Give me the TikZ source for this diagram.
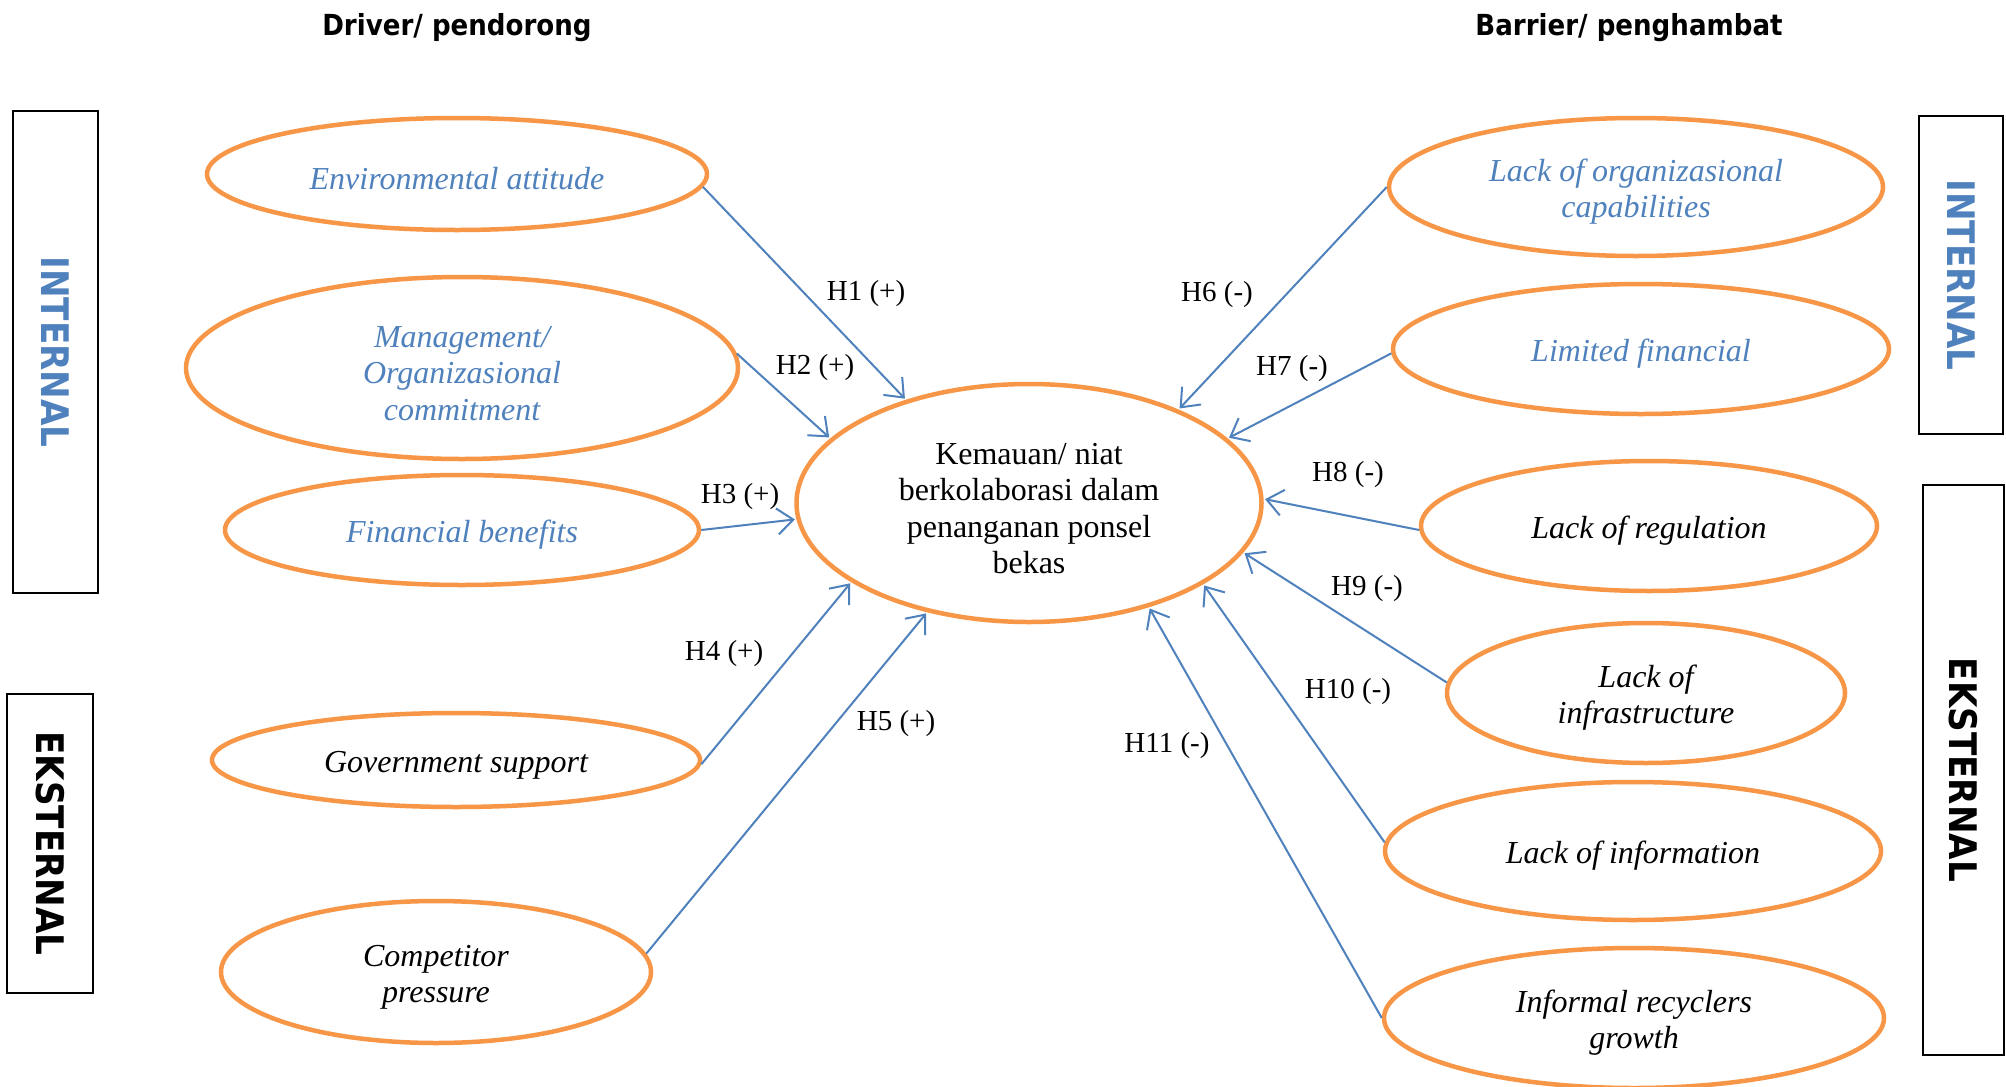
\documentclass[tikz,border=0pt]{standalone}
\usepackage{fontspec}
\setmainfont{Liberation Serif}
\newfontfamily\hdrfont{DejaVu Sans}[FakeStretch=0.9]
\usetikzlibrary{shapes.geometric,arrows.meta}
\definecolor{orng}{HTML}{F79646}
\definecolor{blu}{HTML}{4F81BD}
\newcommand\tallstrut{\rule{0pt}{32pt}}
\begin{document}
\begin{tikzpicture}[x=1pt,y=-1pt,
  oval/.style={ellipse,draw=orng,line width=4.5pt,inner sep=0pt,align=center,
    font=\fontsize{32}{36.5}\selectfont\itshape},
  bluetext/.style={text=blu},
  hyp/.style={draw=blu,line width=2pt,shorten >=1.5pt,
    -{Straight Barb[length=16pt,width=26pt,line width=2pt]}},
  hlab/.style={font=\fontsize{29}{32}\selectfont,inner sep=0pt},
  sidebox/.style={draw=black,line width=1.5pt,inner sep=0pt,rotate=-90,
    font=\hdrfont\bfseries\fontsize{38}{40}\selectfont},
  hdr/.style={font=\hdrfont\bfseries\fontsize{29}{32}\selectfont,inner sep=0pt}]
\fill[white] (0,0) rectangle (2006,1087);
\useasboundingbox (0,0) rectangle (2006,1087);

% headers
\node[hdr] (hd) at (457,28) {Driver/ pendorong};
\node[hdr] (hb) at (1629,28) {Barrier/ penghambat};

% side boxes
\node[sidebox,text=blu,minimum width=482,minimum height=85] (li) at (55.5,352) {INTERNAL};
\node[sidebox,minimum width=299,minimum height=86] (le) at (50,843.5) {EKSTERNAL};
\node[sidebox,text=blu,minimum width=318,minimum height=84] (ri) at (1961,275) {INTERNAL};
\node[sidebox,minimum width=570,minimum height=81] (re) at (1963.5,770) {EKSTERNAL};

% left ellipses
\node[oval,bluetext,minimum width=500,minimum height=112] (e1) at (457,174) {\tallstrut Environmental attitude};
\node[oval,bluetext,minimum width=552,minimum height=182] (e2) at (462,368) {\tallstrut Management/\\Organizasional\\commitment};
\node[oval,bluetext,minimum width=474,minimum height=110] (e3) at (462,530) {\tallstrut Financial benefits};
\node[oval,minimum width=488,minimum height=94] (e4) at (456,760) {\tallstrut Government support};
\node[oval,minimum width=430,minimum height=142] (e5) at (436,972) {\tallstrut Competitor\\pressure};

% centre
\node[oval,font=\fontsize{32}{36.5}\selectfont,minimum width=465,minimum height=238] (c) at (1029,503)
  {\tallstrut Kemauan/ niat\\berkolaborasi dalam\\penanganan ponsel\\bekas};

% right ellipses
\node[oval,bluetext,minimum width=494,minimum height=138] (e6) at (1636,187) {\tallstrut Lack of organizasional\\capabilities};
\node[oval,bluetext,minimum width=496,minimum height=130] (e7) at (1641,349) {\tallstrut Limited financial};
\node[oval,minimum width=456,minimum height=130] (e8) at (1649,526) {\tallstrut Lack of regulation};
\node[oval,minimum width=398,minimum height=140] (e9) at (1646,693) {\tallstrut Lack of\\infrastructure};
\node[oval,minimum width=496,minimum height=138] (e10) at (1633,851) {\tallstrut Lack of information};
\node[oval,minimum width=500,minimum height=140] (e11) at (1634,1018) {\tallstrut Informal recyclers\\growth};

% connectors
\draw[hyp] (e1.-3) -- (c.140);
\draw[hyp] (e2.3) -- (c.162);
\draw[hyp] (e3.0) -- (c.184);
\draw[hyp] (e4.-1) -- (c.204);
\draw[hyp] (e5.5) -- (c.227);
\draw[hyp] (e6.180) -- (c.32.5);
\draw[hyp] (e7.181) -- (c.18);
\draw[hyp] (e8.181) -- (c.1);
\draw[hyp] (e9.177) -- (c.-13);
\draw[hyp] (e10.178) -- (c.-25);
\draw[hyp] (e11.180) -- (c.-41);

% labels
\node[hlab] (l1) at (866,294) {H1 (+)};
\node[hlab] (l2) at (815,368) {H2 (+)};
\node[hlab] (l3) at (740,497) {H3 (+)};
\node[hlab] (l4) at (724,654) {H4 (+)};
\node[hlab] (l5) at (896,724) {H5 (+)};
\node[hlab] (l6) at (1217,295) {H6 (-)};
\node[hlab] (l7) at (1292,369) {H7 (-)};
\node[hlab] (l8) at (1348,475) {H8 (-)};
\node[hlab] (l9) at (1367,589) {H9 (-)};
\node[hlab] (l10) at (1348,692) {H10 (-)};
\node[hlab] (l11) at (1167,746) {H11 (-)};
\end{tikzpicture}
\end{document}
